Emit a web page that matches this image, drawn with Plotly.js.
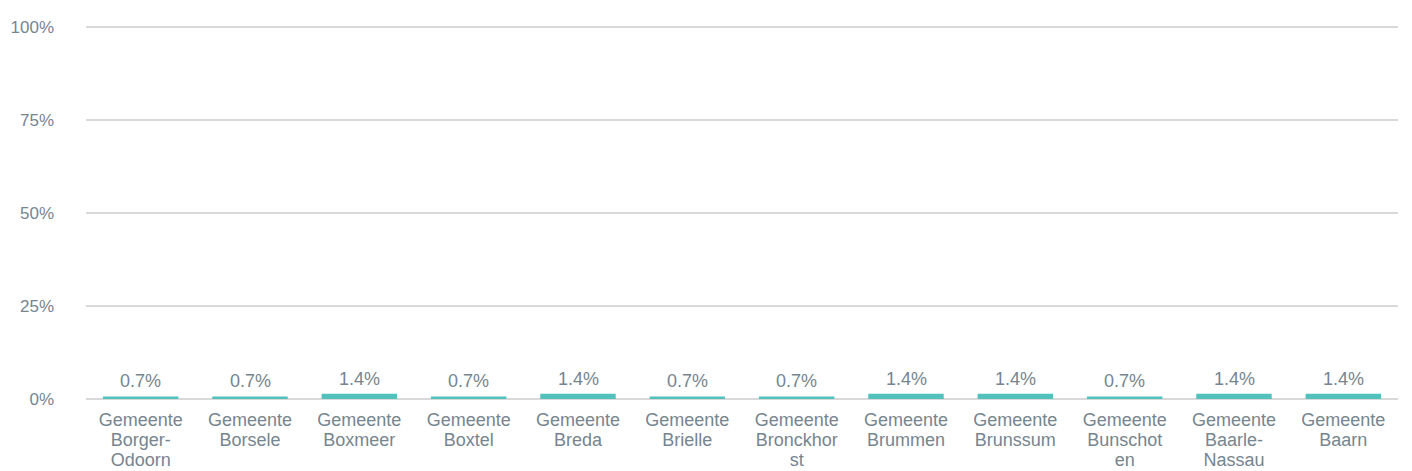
<!DOCTYPE html>
<html>
<head>
<meta charset="utf-8">
<script src="https://cdn.plot.ly/plotly-3.0.1.min.js"></script>
<style>
  html, body { margin: 0; padding: 0; background: #fff; }
  #chart { width: 1412px; height: 471px; }
</style>
</head>
<body>
<div id="chart"></div>
<script>
const categories = [
  'Gemeente<br>Borger-<br>Odoorn', 'Gemeente<br>Borsele', 'Gemeente<br>Boxmeer',
  'Gemeente<br>Boxtel', 'Gemeente<br>Breda', 'Gemeente<br>Brielle',
  'Gemeente<br>Bronckhor<br>st', 'Gemeente<br>Brummen', 'Gemeente<br>Brunssum',
  'Gemeente<br>Bunschot<br>en', 'Gemeente<br>Baarle-<br>Nassau', 'Gemeente<br>Baarn'
]
const shares = [0.7, 0.7, 1.4, 0.7, 1.4, 0.7, 0.7, 1.4, 1.4, 0.7, 1.4, 1.4]
const yTicks = [0, 25, 50, 75, 100]

const text_color = '#76858f'
const bar_color  = '#52c1bc'
const grid_color = '#d9d9d9'

const trace = {
  x: categories,
  y: shares,
  type: 'bar',
  marker: { color: bar_color },
  hoverinfo: 'none'
}

// value labels above the bars
const labels = categories.map((c, i) => ({
  x: c,
  y: shares[i],
  text: shares[i].toFixed(1) + '%',
  showarrow: false,
  yanchor: 'bottom',
  yshift: 3,
  font: { size: 18, color: text_color }
}))

const layout = {
  width: 1412,
  height: 471,
  margin: { l: 86, r: 14, t: 26, b: 72 },
  paper_bgcolor: '#fff',
  plot_bgcolor: '#fff',
  font: { family: 'Liberation Sans, Arial, sans-serif', size: 18, color: text_color },
  showlegend: false,
  bargap: 0.31,
  annotations: labels,
  xaxis: {
    showgrid: false,
    zeroline: false,
    showline: false,
    ticks: '',
    tickangle: 0,
    ticklabelstandoff: 8,
    tickfont: { size: 18, color: text_color },
    automargin: false
  },
  yaxis: {
    range: [0, 100.3],
    tickvals: yTicks,
    ticktext: yTicks.map(v => v + '%'),
    showgrid: true,
    gridcolor: grid_color,
    gridwidth: 2,
    zeroline: true,
    zerolinecolor: grid_color,
    zerolinewidth: 2,
    showline: false,
    ticks: '',
    ticklabelstandoff: 31,
    tickfont: { size: 17, color: text_color },
    automargin: false
  }
}

Plotly.newPlot('chart', [trace], layout, { displayModeBar: false, staticPlot: true })
  .then(gd => {
    // tighter line spacing for the wrapped category labels
    gd.querySelectorAll('.xtick text').forEach(t => {
      t.querySelectorAll('tspan.line').forEach((ln, i) => {
        ln.setAttribute('dy', (i * 1.12) + 'em')
      })
    })
  })
</script>
</body>
</html>
